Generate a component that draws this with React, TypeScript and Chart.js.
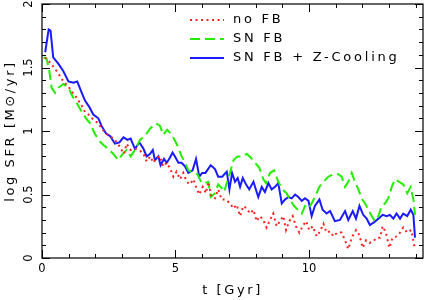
import React, { useEffect, useRef } from 'react';
import { Chart, registerables } from 'chart.js';

Chart.register(...registerables);

// ---- data (t in Gyr, log SFR) ----
const tNoFB = [0.11,0.30,0.49,0.65,0.80,0.99,1.11,1.24,1.36,1.49,1.61,1.74,1.92,2.11,2.23,2.40,2.55,2.73,2.90,3.07,3.17,3.32,3.48,3.65,3.80,3.92,4.05,4.17,4.29,4.42,4.54,4.67,4.79,4.92,5.04,5.17,5.29,5.42,5.54,5.67,5.77,5.89,6.02,6.14,6.23,6.35,6.48,6.60,6.73,6.89,7.04,7.17,7.29,7.42,7.54,7.67,7.79,7.92,8.04,8.16,8.29,8.41,8.54,8.66,8.79,8.91,9.04,9.14,9.26,9.39,9.51,9.64,9.76,9.89,10.01,10.14,10.29,10.41,10.54,10.66,10.79,10.91,11.06,11.22,11.35,11.47,11.60,11.76,11.89,12.01,12.14,12.28,12.41,12.53,12.66,12.76,12.88,13.01,13.13,13.28,13.41,13.53,13.68,13.83,13.97];
const sfrNoFB = [1.58,1.54,1.49,1.44,1.39,1.35,1.31,1.28,1.24,1.20,1.15,1.13,1.09,1.06,1.02,0.98,0.96,0.93,0.88,0.82,0.90,0.85,0.86,0.85,0.82,0.76,0.80,0.75,0.79,0.80,0.72,0.75,0.71,0.64,0.68,0.62,0.67,0.60,0.58,0.62,0.56,0.50,0.56,0.51,0.60,0.48,0.47,0.54,0.46,0.46,0.43,0.39,0.42,0.33,0.41,0.39,0.35,0.38,0.29,0.33,0.30,0.24,0.30,0.35,0.25,0.29,0.33,0.22,0.29,0.33,0.25,0.20,0.25,0.29,0.22,0.25,0.17,0.21,0.27,0.20,0.21,0.17,0.20,0.20,0.14,0.07,0.16,0.22,0.18,0.08,0.14,0.12,0.13,0.16,0.16,0.25,0.20,0.08,0.16,0.17,0.20,0.24,0.20,0.22,0.07];

const tSNFB = [0.05,0.17,0.27,0.36,0.49,0.61,0.80,0.99,1.15,1.30,1.49,1.65,1.80,1.95,2.11,2.30,2.48,2.67,2.86,3.02,3.17,3.32,3.48,3.67,3.86,4.05,4.27,4.42,4.54,4.69,4.86,5.04,5.23,5.36,5.48,5.67,5.82,5.98,6.10,6.23,6.32,6.48,6.60,6.73,6.82,6.92,7.04,7.17,7.32,7.52,7.67,7.82,7.98,8.14,8.29,8.39,8.54,8.69,8.85,9.01,9.16,9.29,9.44,9.58,9.73,9.85,9.98,10.10,10.22,10.39,10.54,10.72,10.91,11.10,11.22,11.35,11.47,11.60,11.72,11.85,11.97,12.10,12.22,12.35,12.47,12.60,12.72,12.85,12.97,13.10,13.22,13.38,13.53,13.68,13.81,13.91,13.97];
const sfrSNFB = [1.58,1.57,1.48,1.34,1.30,1.34,1.37,1.34,1.27,1.22,1.15,1.10,1.06,0.99,0.93,0.89,0.86,0.82,0.77,0.82,0.85,0.80,0.85,0.93,0.96,1.02,1.06,1.04,0.97,1.01,0.97,0.90,0.80,0.75,0.69,0.67,0.66,0.59,0.59,0.60,0.48,0.51,0.58,0.55,0.52,0.59,0.67,0.77,0.80,0.80,0.82,0.79,0.75,0.71,0.62,0.59,0.67,0.69,0.60,0.54,0.51,0.46,0.41,0.38,0.35,0.41,0.39,0.43,0.48,0.56,0.60,0.64,0.66,0.66,0.64,0.56,0.60,0.67,0.60,0.54,0.47,0.43,0.38,0.33,0.29,0.33,0.41,0.43,0.47,0.56,0.62,0.60,0.58,0.51,0.56,0.46,0.34];

const tZCool = [0.12,0.25,0.32,0.42,0.61,0.80,0.99,1.17,1.32,1.49,1.61,1.77,1.92,2.11,2.23,2.40,2.55,2.73,2.90,3.05,3.20,3.32,3.48,3.65,3.80,3.92,4.05,4.15,4.23,4.36,4.44,4.57,4.67,4.79,4.89,4.98,5.11,5.23,5.36,5.48,5.64,5.77,5.89,6.00,6.12,6.32,6.48,6.60,6.75,6.92,7.02,7.12,7.23,7.33,7.42,7.52,7.64,7.76,7.92,8.10,8.23,8.35,8.48,8.60,8.73,8.85,8.98,9.10,9.23,9.35,9.48,9.60,9.73,9.85,9.98,10.10,10.22,10.39,10.51,10.66,10.79,10.97,11.16,11.35,11.47,11.64,11.76,11.89,12.03,12.16,12.28,12.43,12.60,12.76,12.91,13.03,13.16,13.28,13.41,13.53,13.68,13.81,13.91,13.97];
const sfrZCool = [1.62,1.80,1.79,1.58,1.53,1.47,1.39,1.38,1.39,1.30,1.24,1.19,1.13,1.10,1.04,0.98,0.96,0.90,0.91,0.95,0.93,0.94,0.86,0.91,0.86,0.80,0.82,0.85,0.77,0.80,0.73,0.78,0.75,0.79,0.83,0.80,0.75,0.75,0.72,0.67,0.69,0.78,0.64,0.67,0.67,0.73,0.70,0.64,0.64,0.68,0.54,0.67,0.60,0.63,0.56,0.63,0.58,0.54,0.60,0.48,0.56,0.52,0.59,0.54,0.56,0.59,0.43,0.46,0.48,0.47,0.50,0.48,0.45,0.47,0.45,0.33,0.41,0.46,0.38,0.35,0.37,0.29,0.30,0.37,0.30,0.37,0.31,0.41,0.34,0.31,0.26,0.28,0.31,0.34,0.33,0.34,0.31,0.35,0.31,0.35,0.33,0.38,0.34,0.16];

const seriesLabels = ['no FB', 'SN FB', 'SN FB + Z-Cooling'];
const xTitle = 't [Gyr]';
const yTitle = 'log SFR [M\u2299/yr]';
const xMin = 0;
const xMax = 14.27;
const yMin = 0;
const yMax = 2;
const xMajorStep = 5;
const xMinorStep = 1;
const yMajorStep = 0.5;
const yMinorStep = 0.1;

const FONT = 'DejaVu Sans';

const zip = (t: number[], v: number[]) => t.map((x, i) => ({ x, y: v[i] }));
const isMultiple = (v: number, step: number) => Math.abs(v / step - Math.round(v / step)) < 1e-6;

const frameTicksPlugin = {
  id: 'frameTicks',
  beforeDraw(chart: any) {
    (chart.ctx as any).letterSpacing = '2.6px';
  },
  afterDraw(chart: any) {
    const { ctx, chartArea: a, scales } = chart;
    const xs = scales.x;
    const ys = scales.y;
    ctx.save();
    (ctx as any).letterSpacing = '0px';
    ctx.strokeStyle = '#000';
    ctx.lineWidth = 1.2;
    ctx.strokeRect(a.left, a.top, a.right - a.left, a.bottom - a.top);
    ctx.lineWidth = 1;
    ctx.beginPath();
    const nx = Math.floor((xs.max - xs.min) / xMinorStep + 1e-6);
    for (let i = 0; i <= nx; i++) {
      const v = xs.min + i * xMinorStep;
      const px = Math.round(xs.getPixelForValue(v)) + 0.5;
      const len = isMultiple(v, xMajorStep) ? 8 : 4;
      ctx.moveTo(px, a.bottom);
      ctx.lineTo(px, a.bottom - len);
      ctx.moveTo(px, a.top);
      ctx.lineTo(px, a.top + len);
    }
    const ny = Math.floor((ys.max - ys.min) / yMinorStep + 1e-6);
    for (let i = 0; i <= ny; i++) {
      const v = ys.min + i * yMinorStep;
      const py = Math.round(ys.getPixelForValue(v)) + 0.5;
      const len = isMultiple(v, yMajorStep) ? 8 : 4;
      ctx.moveTo(a.left, py);
      ctx.lineTo(a.left + len, py);
      ctx.moveTo(a.right, py);
      ctx.lineTo(a.right - len, py);
    }
    ctx.stroke();

    // tick labels
    ctx.fillStyle = '#000';
    ctx.font = `11.5px "${FONT}"`;
    ctx.textAlign = 'center';
    ctx.textBaseline = 'middle';
    xs.ticks.forEach((t: any) => {
      ctx.fillText(String(t.value), xs.getPixelForValue(t.value), a.bottom + 11);
    });
    ys.ticks.forEach((t: any) => {
      ctx.save();
      ctx.translate(a.left - 12.5, ys.getPixelForValue(t.value));
      ctx.rotate(-Math.PI / 2);
      ctx.fillText(String(t.value), 0, 0);
      ctx.restore();
    });

    // legend inside plot
    (ctx as any).letterSpacing = '2.75px';
    ctx.font = `13px "${FONT}"`;
    ctx.textAlign = 'left';
    chart.data.datasets.forEach((ds: any, i: number) => {
      const y = a.top + 16 + i * 19;
      ctx.save();
      ctx.strokeStyle = ds.borderColor;
      ctx.lineWidth = ds.borderWidth;
      ctx.setLineDash(ds.borderDash || []);
      ctx.beginPath();
      ctx.moveTo(a.left + 148, y);
      ctx.lineTo(a.left + 182, y);
      ctx.stroke();
      ctx.restore();
      ctx.fillText(ds.label, a.left + 191, y);
    });
    ctx.restore();
  },
};

export default function App() {
  const ref = useRef<HTMLCanvasElement | null>(null);
  useEffect(() => {
    if (!ref.current) return;
    const chart = new Chart(ref.current, {
      type: 'line',
      data: {
        datasets: [
          {
            label: seriesLabels[0],
            data: zip(tNoFB, sfrNoFB),
            borderColor: '#ff2020',
            borderWidth: 2,
            borderDash: [2, 3.5],
            pointRadius: 0,
            fill: false,
          },
          {
            label: seriesLabels[1],
            data: zip(tSNFB, sfrSNFB),
            borderColor: '#22ee00',
            borderWidth: 2,
            borderDash: [10, 5],
            pointRadius: 0,
            fill: false,
          },
          {
            label: seriesLabels[2],
            data: zip(tZCool, sfrZCool),
            borderColor: '#1a1aff',
            borderWidth: 2,
            pointRadius: 0,
            fill: false,
          },
        ],
      },
      options: {
        animation: false,
        responsive: false,
        maintainAspectRatio: false,
        layout: { padding: { top: 4, right: 1, left: 0, bottom: 0 } },
        plugins: { legend: { display: false }, tooltip: { enabled: false } },
        elements: { line: { tension: 0 }, point: { radius: 0 } },
        scales: {
          x: {
            type: 'linear',
            min: xMin,
            max: xMax,
            grid: { display: false },
            border: { display: false },
            ticks: { display: false, stepSize: xMajorStep },
            afterBuildTicks(s: any) {
              s.ticks = s.ticks.filter((t: any) => isMultiple(t.value, xMajorStep));
            },
            title: {
              display: true,
              text: xTitle,
              color: '#000',
              font: { family: FONT, size: 13 },
              padding: { top: 0, bottom: 2 },
            },
            afterFit(s: any) {
              s.height = 42;
            },
          },
          y: {
            type: 'linear',
            min: yMin,
            max: yMax,
            grid: { display: false },
            border: { display: false },
            ticks: { display: false, stepSize: yMajorStep },
            afterBuildTicks(s: any) {
              s.ticks = s.ticks.filter((t: any) => isMultiple(t.value, yMajorStep));
            },
            title: {
              display: true,
              text: yTitle,
              color: '#000',
              font: { family: FONT, size: 13 },
              padding: { top: 3, bottom: 0 },
            },
            afterFit(s: any) {
              s.width = 42;
            },
          },
        },
      },
      plugins: [frameTicksPlugin],
    });
    return () => chart.destroy();
  }, []);

  return (
    <div style={{ position: 'absolute', left: 0, top: 0, width: 424, height: 300, background: '#fff' }}>
      <canvas ref={ref} width={424} height={300} style={{ width: 424, height: 300, display: 'block' }} />
    </div>
  );
}
